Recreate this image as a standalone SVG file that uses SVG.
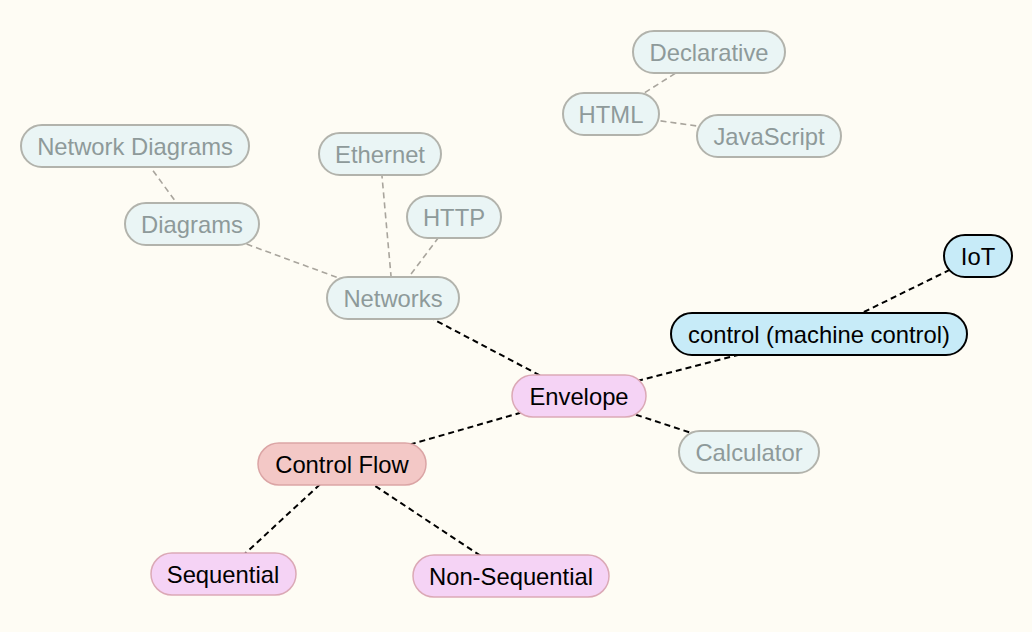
<svg xmlns="http://www.w3.org/2000/svg" width="1032" height="632" viewBox="0 0 1032 632">
<style>
.bg{fill:#fefcf4}
text{font-family:"Liberation Sans",Arial,Helvetica,sans-serif;font-size:23.8px;text-anchor:middle;dominant-baseline:central}
.gray rect{fill:#eaf5f5;stroke:#b2b3ac;stroke-width:2}
.gray text{fill:#8e9a9a}
.pink rect{fill:#f5d3f5;stroke:#dba9b6;stroke-width:1.5}
.red rect{fill:#f3c8c6;stroke:#dba5a5;stroke-width:1.5}
.blue rect{fill:#c7ebf8;stroke:#000;stroke-width:2}
.pink text,.red text,.blue text{fill:#000}
.c line{stroke-dasharray:6 4}
.c .k{stroke:#000;stroke-width:2}
.c .g{stroke:#a9a59d;stroke-width:1.6}
</style>
<rect class="bg" x="0" y="0" width="1032" height="632"/>
<g id="connectors" class="c">
<line class="k" x1="393" y1="298" x2="579" y2="396"/>
<line class="k" x1="579" y1="396" x2="819" y2="334"/>
<line class="k" x1="579" y1="396" x2="749" y2="452"/>
<line class="k" x1="579" y1="396" x2="342" y2="464"/>
<line class="k" x1="342" y1="464" x2="223" y2="574"/>
<line class="k" x1="342" y1="464" x2="511" y2="576"/>
<line class="k" x1="819" y1="334" x2="978" y2="256"/>
<line class="g" x1="393" y1="298" x2="192" y2="224"/>
<line class="g" x1="393" y1="298" x2="380" y2="154"/>
<line class="g" x1="393" y1="298" x2="454" y2="217"/>
<line class="g" x1="192" y1="224" x2="135" y2="146"/>
<line class="g" x1="611" y1="114" x2="709" y2="52"/>
<line class="g" x1="611" y1="114" x2="769" y2="136"/>
</g>
<g id="declarative" class="gray"><rect x="633" y="31" width="152" height="42" rx="21"/><text x="709" y="52">Declarative</text></g>
<g id="html" class="gray"><rect x="563" y="93" width="96" height="42" rx="21"/><text x="611" y="114">HTML</text></g>
<g id="javascript" class="gray"><rect x="697" y="115" width="144" height="42" rx="21"/><text x="769" y="136">JavaScript</text></g>
<g id="network-diagrams" class="gray"><rect x="21" y="125" width="228" height="42" rx="21"/><text x="135" y="146">Network Diagrams</text></g>
<g id="ethernet" class="gray"><rect x="319" y="133" width="122" height="42" rx="21"/><text x="380" y="154">Ethernet</text></g>
<g id="http" class="gray"><rect x="407" y="196" width="94" height="42" rx="21"/><text x="454" y="217">HTTP</text></g>
<g id="diagrams" class="gray"><rect x="125" y="203" width="134" height="42" rx="21"/><text x="192" y="224">Diagrams</text></g>
<g id="networks" class="gray"><rect x="327" y="277" width="132" height="42" rx="21"/><text x="393" y="298">Networks</text></g>
<g id="calculator" class="gray"><rect x="679" y="431" width="140" height="42" rx="21"/><text x="749" y="452">Calculator</text></g>
<g id="iot" class="blue"><rect x="944" y="235" width="68" height="42" rx="21"/><text x="978" y="256">IoT</text></g>
<g id="control" class="blue"><rect x="671" y="313" width="296" height="42" rx="21"/><text x="819" y="334">control (machine control)</text></g>
<g id="envelope" class="pink"><rect x="512" y="375" width="134" height="42" rx="21"/><text x="579" y="396">Envelope</text></g>
<g id="control-flow" class="red"><rect x="258" y="443" width="168" height="42" rx="21"/><text x="342" y="464">Control Flow</text></g>
<g id="sequential" class="pink"><rect x="151" y="553" width="145" height="42" rx="21"/><text x="223" y="574">Sequential</text></g>
<g id="non-sequential" class="pink"><rect x="413" y="555" width="196" height="42" rx="21"/><text x="511" y="576">Non-Sequential</text></g>
</svg>
